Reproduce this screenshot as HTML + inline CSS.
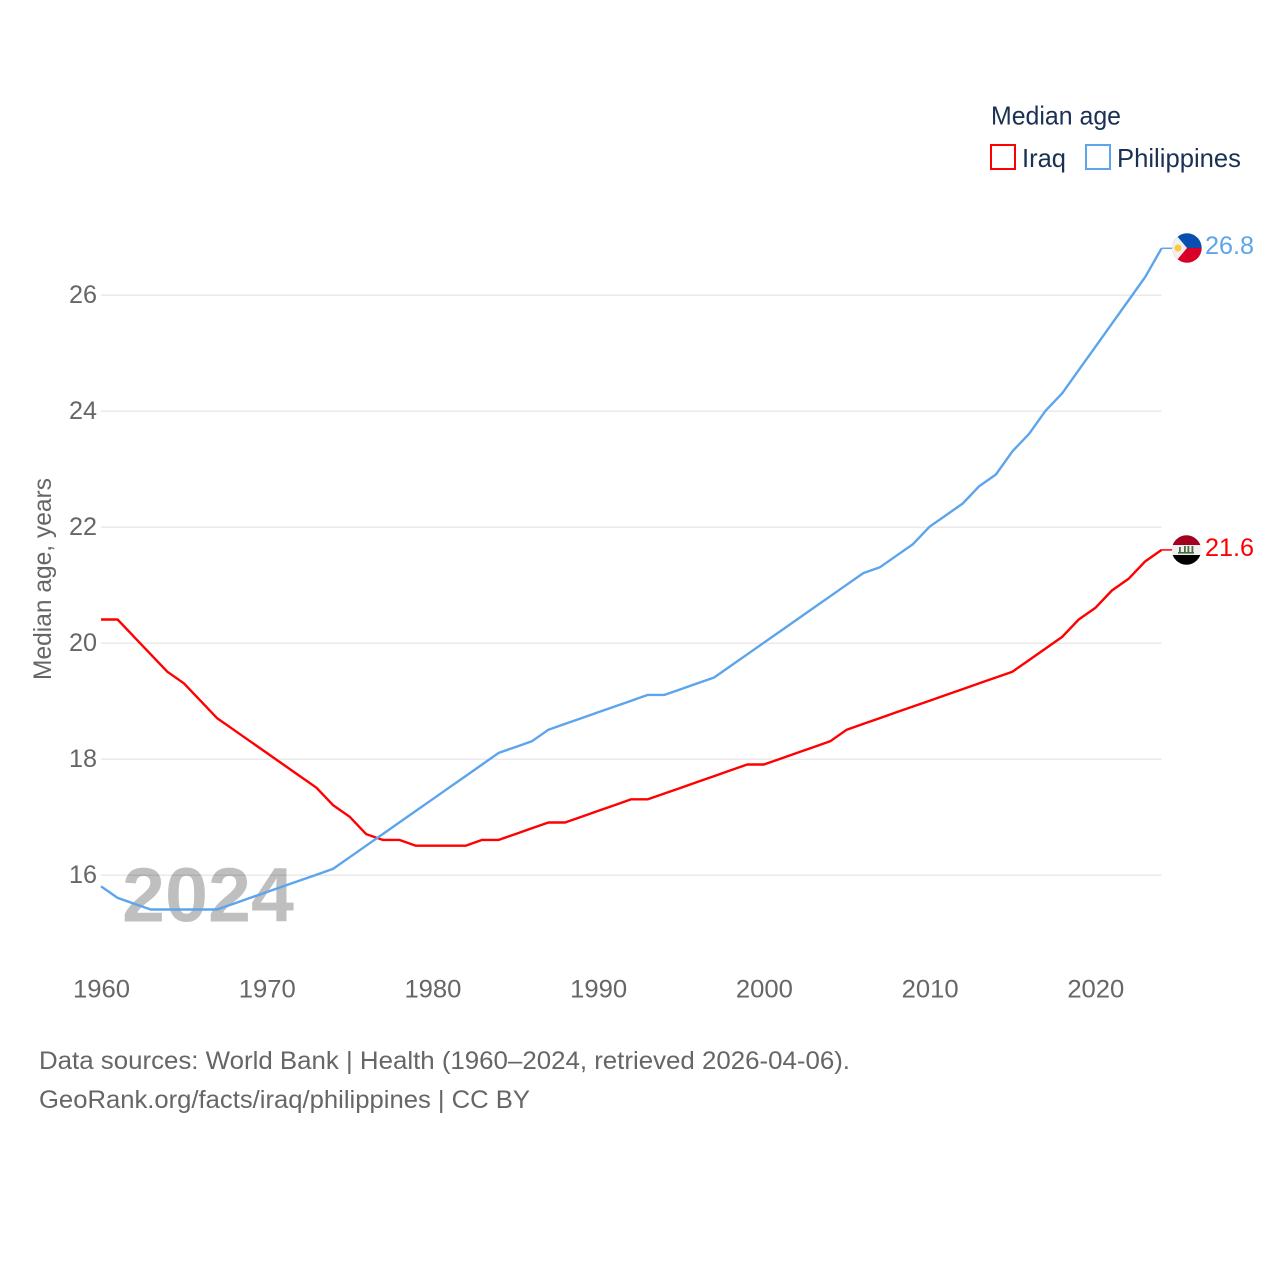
<!DOCTYPE html>
<html lang="en">
<head>
<meta charset="utf-8">
<title>Median age: Iraq and Philippines</title>
<style>
html,body{margin:0;padding:0;background:#fff;width:1280px;height:1280px;overflow:hidden}
svg{display:block}
text{font-family:"Liberation Sans",sans-serif}
</style>
</head>
<body>
<svg id="chart" xmlns="http://www.w3.org/2000/svg" width="1280" height="1280" viewBox="0 0 1280 1280">
  <defs>
    <clipPath id="ph-clip"><circle cx="1187" cy="248" r="14.7"/></clipPath>
    <clipPath id="iq-clip"><circle cx="1186.5" cy="550" r="14.7"/></clipPath>
  </defs>
  <g id="grid"></g>
  <g id="y-ticks"></g>
  <g id="x-ticks"></g>
  <text x="0" y="0" transform="translate(51,680) rotate(-90)" font-size="25" fill="#666" textLength="202" lengthAdjust="spacingAndGlyphs">Median age, years</text>
  <text x="122" y="921.5" font-size="77" font-weight="700" fill="#000" fill-opacity="0.25" textLength="172" lengthAdjust="spacingAndGlyphs">2024</text>
  <g id="series"></g>

  <g clip-path="url(#ph-clip)">
    <rect x="1172" y="233" width="30" height="15" fill="#0a4fb0"/>
    <rect x="1172" y="248" width="30" height="15" fill="#d80027"/>
    <polygon points="1172,230 1187,248 1172,266" fill="#f0f0f0"/>
    <circle cx="1178" cy="248" r="3.5" fill="#ffc93c"/>
  </g>
  <g clip-path="url(#iq-clip)">
    <rect x="1172" y="535" width="30" height="10" fill="#a2001d"/>
    <rect x="1172" y="545" width="30" height="10" fill="#f0f0f0"/>
    <rect x="1172" y="555" width="30" height="10" fill="#000"/>
    <path d="M1178 552h16v1.6h-16zM1179 547h1.8v5h-1.8zM1184 546h1.8v6h-1.8zM1187.5 546h1.8v6h-1.8zM1191.5 546h1.8v6h-1.8z" fill="#4a6b3a"/>
  </g>
  <text x="1205" y="254" font-size="25" fill="#5ca5ec" textLength="49" lengthAdjust="spacingAndGlyphs">26.8</text>
  <text x="1205" y="556" font-size="25" fill="#ff0000" textLength="49" lengthAdjust="spacingAndGlyphs">21.6</text>

  <g>
    <text x="991" y="124.5" font-size="26" fill="#1a3153" textLength="130" lengthAdjust="spacingAndGlyphs">Median age</text>
    <g>
      <rect x="991" y="145" width="24" height="24" fill="none" stroke="#ff0000" stroke-width="2"/>
      <text x="1022" y="167" font-size="26" fill="#1a3153" textLength="44" lengthAdjust="spacingAndGlyphs">Iraq</text>
    </g>
    <g>
      <rect x="1086" y="145" width="24" height="24" fill="none" stroke="#5ca5ec" stroke-width="2"/>
      <text x="1117" y="167" font-size="26" fill="#1a3153" textLength="124" lengthAdjust="spacingAndGlyphs">Philippines</text>
    </g>
  </g>

  <text x="39" y="1069" font-size="25" fill="#666" textLength="811" lengthAdjust="spacingAndGlyphs">Data sources: World Bank | Health (1960–2024, retrieved 2026-04-06).</text>
  <text x="39" y="1108" font-size="25" fill="#666" textLength="491" lengthAdjust="spacingAndGlyphs">GeoRank.org/facts/iraq/philippines | CC BY</text>
</svg>
<script>
const firstYear = 1960;
const iraqValues = [20.4,20.4,20.1,19.8,19.5,19.3,19.0,18.7,18.5,18.3,18.1,17.9,17.7,17.5,17.2,17.0,16.7,16.6,16.6,16.5,16.5,16.5,16.5,16.6,16.6,16.7,16.8,16.9,16.9,17.0,17.1,17.2,17.3,17.3,17.4,17.5,17.6,17.7,17.8,17.9,17.9,18.0,18.1,18.2,18.3,18.5,18.6,18.7,18.8,18.9,19.0,19.1,19.2,19.3,19.4,19.5,19.7,19.9,20.1,20.4,20.6,20.9,21.1,21.4,21.6];
const philippinesValues = [15.8,15.6,15.5,15.4,15.4,15.4,15.4,15.4,15.5,15.6,15.7,15.8,15.9,16.0,16.1,16.3,16.5,16.7,16.9,17.1,17.3,17.5,17.7,17.9,18.1,18.2,18.3,18.5,18.6,18.7,18.8,18.9,19.0,19.1,19.1,19.2,19.3,19.4,19.6,19.8,20.0,20.2,20.4,20.6,20.8,21.0,21.2,21.3,21.5,21.7,22.0,22.2,22.4,22.7,22.9,23.3,23.6,24.0,24.3,24.7,25.1,25.5,25.9,26.3,26.8];
const yTicks = [16,18,20,22,24,26];
const xTicks = [1960,1970,1980,1990,2000,2010,2020];

const SVG_NS = 'http://www.w3.org/2000/svg';
function xScale(year){ return 101 + (year - 1960) * (1161.6 - 101) / 64; }
function yScale(v){ return 874.7 - (v - 16) * (874.7 - 294.7) / 10; }

const grid = document.getElementById('grid');
const yGroup = document.getElementById('y-ticks');
const xGroup = document.getElementById('x-ticks');
const seriesGroup = document.getElementById('series');

yTicks.forEach(function(t){
  const line = document.createElementNS(SVG_NS, 'line');
  
  
  line.setAttribute('x1', xScale(1960));
  line.setAttribute('x2', xScale(2024));
  line.setAttribute('y1', yScale(t) + 0.5);
  line.setAttribute('y2', yScale(t) + 0.5);
  line.setAttribute('stroke', '#eaeaea');
  line.setAttribute('stroke-width', '1.5');
  grid.appendChild(line);

  const label = document.createElementNS(SVG_NS, 'text');
  
  
  label.setAttribute('x', 97);
  label.setAttribute('y', yScale(t) + 8.5);
  label.setAttribute('text-anchor', 'end');
  label.setAttribute('font-size', '25');
  label.setAttribute('fill', '#666');
  label.setAttribute('textLength', '28');
  label.setAttribute('lengthAdjust', 'spacingAndGlyphs');
  label.textContent = t;
  yGroup.appendChild(label);
});

xTicks.forEach(function(t){
  const label = document.createElementNS(SVG_NS, 'text');
  
  
  label.setAttribute('x', xScale(t) + 0.5);
  label.setAttribute('y', 997.5);
  label.setAttribute('text-anchor', 'middle');
  label.setAttribute('font-size', '25');
  label.setAttribute('fill', '#666');
  label.setAttribute('textLength', '57');
  label.setAttribute('lengthAdjust', 'spacingAndGlyphs');
  label.textContent = t;
  xGroup.appendChild(label);
});

function pathFor(values){
  return values.map(function(v, i){
    return (i ? 'L' : 'M') + xScale(firstYear + i).toFixed(2) + ' ' + yScale(v).toFixed(2);
  }).join(' ');
}

const iraqLine = document.createElementNS(SVG_NS, 'path');


iraqLine.setAttribute('d', pathFor(iraqValues));
iraqLine.setAttribute('fill', 'none');
iraqLine.setAttribute('stroke', '#ff0000');
iraqLine.setAttribute('stroke-width', '2.4');
iraqLine.setAttribute('stroke-linejoin', 'round');
seriesGroup.appendChild(iraqLine);

const philippinesLine = document.createElementNS(SVG_NS, 'path');


philippinesLine.setAttribute('d', pathFor(philippinesValues));
philippinesLine.setAttribute('fill', 'none');
philippinesLine.setAttribute('stroke', '#5ca5ec');
philippinesLine.setAttribute('stroke-width', '2.4');
philippinesLine.setAttribute('stroke-linejoin', 'round');
seriesGroup.appendChild(philippinesLine);

const iraqLeader = document.createElementNS(SVG_NS, 'line');


iraqLeader.setAttribute('x1', xScale(2024));
iraqLeader.setAttribute('x2', 1172);
iraqLeader.setAttribute('y1', yScale(iraqValues[iraqValues.length - 1]));
iraqLeader.setAttribute('y2', yScale(iraqValues[iraqValues.length - 1]));
iraqLeader.setAttribute('stroke', '#ff0000');
iraqLeader.setAttribute('stroke-width', '1.5');
seriesGroup.appendChild(iraqLeader);

const philippinesLeader = document.createElementNS(SVG_NS, 'line');


philippinesLeader.setAttribute('x1', xScale(2024));
philippinesLeader.setAttribute('x2', 1172);
philippinesLeader.setAttribute('y1', yScale(philippinesValues[philippinesValues.length - 1]));
philippinesLeader.setAttribute('y2', yScale(philippinesValues[philippinesValues.length - 1]));
philippinesLeader.setAttribute('stroke', '#5ca5ec');
philippinesLeader.setAttribute('stroke-width', '1.5');
seriesGroup.appendChild(philippinesLeader);
</script>
</body>
</html>
